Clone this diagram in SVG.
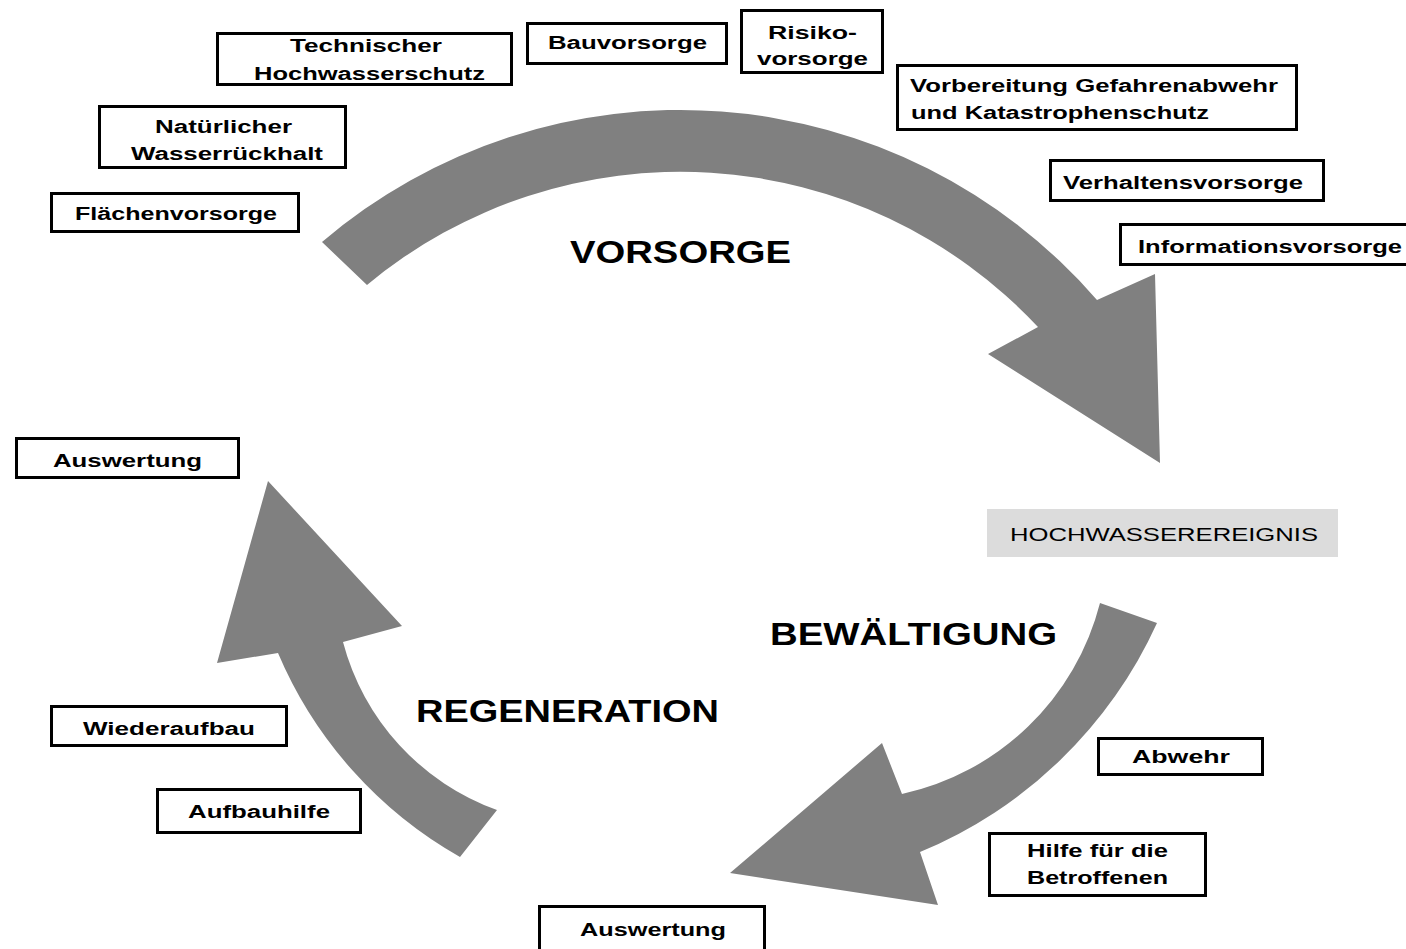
<svg xmlns="http://www.w3.org/2000/svg" width="1406" height="949" viewBox="0 0 1406 949">
<style>
.box{fill:#fff;stroke:#000;stroke-width:3}
.t{font-family:"Liberation Sans",Arial,sans-serif;font-weight:bold;font-size:18px;fill:#000}
.big{font-family:"Liberation Sans",Arial,sans-serif;font-weight:bold;font-size:32px;fill:#000}
.ev{font-family:"Liberation Sans",Arial,sans-serif;font-size:19px;fill:#000}
.arr{fill:#808080}
</style>
<rect width="1406" height="949" fill="#fff"/>
<g id="connectors">
<path class="arr" d="M322,242 A552,552 0 0 1 1097,300 L1155,274 L1160,463 L988,354 L1038,327 A490,490 0 0 0 367,285 Z"/>
<path class="arr" d="M1100,603 L1157,623 A448,448 0 0 1 920,852 L938,905 L730,873 L882,743 L902,794 A262,262 0 0 0 1100,603 Z"/>
<path class="arr" d="M460,857 A425,425 0 0 1 278,653 L217,663 L268,481 L402,626 L343,642 A245,245 0 0 0 497,810 Z"/>
</g>
<g id="label-vorsorge"><text class="big" x="570" y="263" textLength="221" lengthAdjust="spacingAndGlyphs">VORSORGE</text></g>
<g id="label-bewaeltigung"><text class="big" x="770" y="645" textLength="287" lengthAdjust="spacingAndGlyphs">BEWÄLTIGUNG</text></g>
<g id="label-regeneration"><text class="big" x="416" y="722" textLength="303" lengthAdjust="spacingAndGlyphs">REGENERATION</text></g>
<g id="n-technischer">
<rect class="box" x="217.5" y="33.5" width="294" height="51"/>
<text class="t" x="290" y="52" textLength="152" lengthAdjust="spacingAndGlyphs">Technischer</text>
<text class="t" x="254" y="80" textLength="231" lengthAdjust="spacingAndGlyphs">Hochwasserschutz</text>
</g>
<g id="n-natuerlicher">
<rect class="box" x="99.5" y="106.5" width="246" height="61"/>
<text class="t" x="155" y="133" textLength="137" lengthAdjust="spacingAndGlyphs">Natürlicher</text>
<text class="t" x="131" y="160" textLength="192" lengthAdjust="spacingAndGlyphs">Wasserrückhalt</text>
</g>
<g id="n-flaechen">
<rect class="box" x="51.5" y="193.5" width="247" height="38"/>
<text class="t" x="75" y="220" textLength="202" lengthAdjust="spacingAndGlyphs">Flächenvorsorge</text>
</g>
<g id="n-bau">
<rect class="box" x="527.5" y="23.5" width="199" height="40"/>
<text class="t" x="548" y="49" textLength="159" lengthAdjust="spacingAndGlyphs">Bauvorsorge</text>
</g>
<g id="n-risiko">
<rect class="box" x="741.5" y="10.5" width="141" height="62"/>
<text class="t" x="768" y="39" textLength="89" lengthAdjust="spacingAndGlyphs">Risiko-</text>
<text class="t" x="757" y="65" textLength="111" lengthAdjust="spacingAndGlyphs">vorsorge</text>
</g>
<g id="n-vorbereitung">
<rect class="box" x="897.5" y="65.5" width="399" height="64"/>
<text class="t" x="910" y="92" textLength="368" lengthAdjust="spacingAndGlyphs">Vorbereitung Gefahrenabwehr</text>
<text class="t" x="911" y="119" textLength="298" lengthAdjust="spacingAndGlyphs">und Katastrophenschutz</text>
</g>
<g id="n-verhalten">
<rect class="box" x="1050.5" y="160.5" width="273" height="40"/>
<text class="t" x="1063" y="189" textLength="240" lengthAdjust="spacingAndGlyphs">Verhaltensvorsorge</text>
</g>
<g id="n-information">
<rect class="box" x="1120.5" y="224.5" width="300" height="40"/>
<text class="t" x="1138" y="253" textLength="264" lengthAdjust="spacingAndGlyphs">Informationsvorsorge</text>
</g>
<g id="n-ereignis">
<rect x="987" y="509" width="351" height="48" fill="#dcdcdc"/>
<text class="ev" x="1010" y="541" textLength="308" lengthAdjust="spacingAndGlyphs">HOCHWASSEREREIGNIS</text>
</g>
<g id="n-abwehr">
<rect class="box" x="1098.5" y="738.5" width="164" height="36"/>
<text class="t" x="1132" y="763" textLength="98" lengthAdjust="spacingAndGlyphs">Abwehr</text>
</g>
<g id="n-hilfe">
<rect class="box" x="989.5" y="833.5" width="216" height="62"/>
<text class="t" x="1027" y="857" textLength="141" lengthAdjust="spacingAndGlyphs">Hilfe für die</text>
<text class="t" x="1027" y="884" textLength="141" lengthAdjust="spacingAndGlyphs">Betroffenen</text>
</g>
<g id="n-auswertung-unten">
<rect class="box" x="539.5" y="906.5" width="225" height="60"/>
<text class="t" x="580" y="936" textLength="146" lengthAdjust="spacingAndGlyphs">Auswertung</text>
</g>
<g id="n-auswertung-links">
<rect class="box" x="16.5" y="438.5" width="222" height="39"/>
<text class="t" x="53" y="467" textLength="149" lengthAdjust="spacingAndGlyphs">Auswertung</text>
</g>
<g id="n-wiederaufbau">
<rect class="box" x="51.5" y="706.5" width="235" height="39"/>
<text class="t" x="83" y="735" textLength="172" lengthAdjust="spacingAndGlyphs">Wiederaufbau</text>
</g>
<g id="n-aufbauhilfe">
<rect class="box" x="157.5" y="789.5" width="203" height="43"/>
<text class="t" x="188" y="818" textLength="142" lengthAdjust="spacingAndGlyphs">Aufbauhilfe</text>
</g>
</svg>
